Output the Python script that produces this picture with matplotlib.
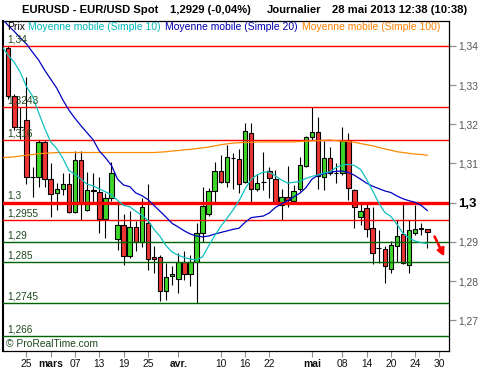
import matplotlib
matplotlib.use("Agg")
import matplotlib.pyplot as plt
from matplotlib.transforms import blended_transform_factory

plt.rcParams['font.family'] = ['Liberation Sans', 'DejaVu Sans']

# ---------------- data ----------------
opens = [1.3394, 1.3272, 1.3192, 1.3211, 1.3066, 1.3066, 1.3154, 1.3060, 1.3024, 1.3034,
         1.3048, 1.2977, 1.3109, 1.2981, 1.3031, 1.3028, 1.2958, 1.3011, 1.2907, 1.2943,
         1.2864, 1.2937, 1.2901, 1.2947, 1.2861, 1.2861, 1.2774, 1.2813, 1.2805, 1.2849,
         1.2817, 1.2849, 1.2923, 1.2970, 1.3029, 1.3080, 1.3052, 1.3114, 1.3111, 1.3052,
         1.3177, 1.3034, 1.3052, 1.3082, 1.3060, 1.2993, 1.3015, 1.3004, 1.3034, 1.3093,
         1.3167, 1.3180, 1.3065, 1.3113, 1.3075, 1.3075, 1.3158, 1.3032, 1.2964, 1.2986,
         1.2935, 1.2884, 1.2881, 1.2830, 1.2890, 1.2920, 1.2840, 1.2922, 1.2934, 1.2933]
highs = [1.3400, 1.3278, 1.3243, 1.3321, 1.3092, 1.3160, 1.3160, 1.3100, 1.3049, 1.3075,
         1.3075, 1.3133, 1.3133, 1.3079, 1.3075, 1.3066, 1.3025, 1.3105, 1.2998, 1.2971,
         1.2980, 1.2954, 1.3011, 1.3048, 1.2890, 1.2867, 1.2845, 1.2839, 1.2871, 1.2877,
         1.2867, 1.2947, 1.3039, 1.3037, 1.3105, 1.3122, 1.3147, 1.3128, 1.3136, 1.3204,
         1.3203, 1.3073, 1.3130, 1.3090, 1.3083, 1.3034, 1.3094, 1.3045, 1.3117, 1.3170,
         1.3243, 1.3218, 1.3158, 1.3143, 1.3102, 1.3194, 1.3177, 1.3035, 1.2996, 1.3003,
         1.2990, 1.2930, 1.2890, 1.2903, 1.2956, 1.2997, 1.2956, 1.2994, 1.2947, 1.2934]
lows = [1.3265, 1.3185, 1.3163, 1.3048, 1.3015, 1.3041, 1.3040, 1.2964, 1.2981, 1.3020,
        1.2975, 1.2973, 1.2956, 1.2978, 1.3000, 1.2922, 1.2909, 1.3005, 1.2879, 1.2841,
        1.2860, 1.2878, 1.2886, 1.2828, 1.2821, 1.2750, 1.2753, 1.2790, 1.2769, 1.2803,
        1.2787, 1.2745, 1.2901, 1.2965, 1.3003, 1.3050, 1.3041, 1.3035, 1.3024, 1.3050,
        1.3003, 1.3029, 1.3032, 1.3011, 1.2996, 1.2956, 1.2990, 1.2996, 1.3030, 1.3090,
        1.3160, 1.3034, 1.3032, 1.3071, 1.3051, 1.3070, 1.3007, 1.2935, 1.2943, 1.2913,
        1.2844, 1.2845, 1.2794, 1.2820, 1.2850, 1.2843, 1.2820, 1.2917, 1.2917, 1.2884]
closes = [1.3272, 1.3192, 1.3192, 1.3065, 1.3066, 1.3154, 1.3060, 1.3021, 1.3034, 1.3048,
          1.2977, 1.3109, 1.3003, 1.3032, 1.3031, 1.2958, 1.3011, 1.3075, 1.2943, 1.2864,
          1.2937, 1.2901, 1.2988, 1.2856, 1.2856, 1.2774, 1.2811, 1.2818, 1.2849, 1.2817,
          1.2849, 1.2923, 1.2992, 1.3029, 1.3080, 1.3052, 1.3116, 1.3114, 1.3048, 1.3182,
          1.3034, 1.3049, 1.3052, 1.3062, 1.2998, 1.3015, 1.3006, 1.3029, 1.3095, 1.3167,
          1.3180, 1.3068, 1.3113, 1.3075, 1.3075, 1.3158, 1.3037, 1.2988, 1.2979, 1.2932,
          1.2871, 1.2884, 1.2839, 1.2892, 1.2915, 1.2847, 1.2930, 1.2933, 1.2934, 1.2926]

# moving averages (index -1 .. 69)
sma10 = [1.3398, 1.3376, 1.3358, 1.3332, 1.3296, 1.3272, 1.3230, 1.3190, 1.3155, 1.3138,
         1.3113, 1.3082, 1.3072, 1.3060, 1.3047, 1.3043, 1.3035, 1.3028, 1.3020, 1.3006,
         1.2993, 1.2990, 1.2978, 1.2968, 1.2955, 1.2932, 1.2914, 1.2890, 1.2874, 1.2866,
         1.2860, 1.2856, 1.2854, 1.2862, 1.2890, 1.2916, 1.2940, 1.2960, 1.2981, 1.3005,
         1.3035, 1.3060, 1.3071, 1.3078, 1.3078, 1.3068, 1.3058, 1.3050, 1.3052, 1.3054,
         1.3062, 1.3067, 1.3071, 1.3076, 1.3079, 1.3090, 1.3096, 1.3098, 1.3095, 1.3085,
         1.3060, 1.3030, 1.3000, 1.2975, 1.2965, 1.2945, 1.2922, 1.2910, 1.2902, 1.2898,
         1.2896]
sma20 = [1.3470, 1.3452, 1.3437, 1.3420, 1.3405, 1.3384, 1.3364, 1.3338, 1.3315, 1.3292,
         1.3262, 1.3236, 1.3215, 1.3196, 1.3178, 1.3160, 1.3132, 1.3115, 1.3095, 1.3060,
         1.3045, 1.3041, 1.3025, 1.3018, 1.3008, 1.2993, 1.2978, 1.2963, 1.2947, 1.2938,
         1.2928, 1.2920, 1.2915, 1.2913, 1.2915, 1.2920, 1.2924, 1.2928, 1.2932, 1.2935,
         1.2950, 1.2962, 1.2964, 1.2966, 1.2974, 1.2988, 1.2997, 1.3005, 1.3015, 1.3024,
         1.3038, 1.3060, 1.3070, 1.3074, 1.3078, 1.3080, 1.3081, 1.3077, 1.3070, 1.3060,
         1.3050, 1.3042, 1.3036, 1.3030, 1.3026, 1.3017, 1.3010, 1.3005, 1.3001, 1.2993,
         1.2980]
sma100 = [1.3115, 1.3116, 1.3117, 1.3119, 1.3121, 1.3123, 1.3125, 1.3126, 1.3127, 1.3128,
          1.3128, 1.3128, 1.3128, 1.3128, 1.3128, 1.3128, 1.3128, 1.3128, 1.3128, 1.3128,
          1.3128, 1.3128, 1.3128, 1.3128, 1.3128, 1.3128, 1.3129, 1.3130, 1.3132, 1.3133,
          1.3135, 1.3136, 1.3138, 1.3140, 1.3142, 1.3145, 1.3148, 1.3150, 1.3152, 1.3153,
          1.3154, 1.3154, 1.3155, 1.3155, 1.3155, 1.3155, 1.3155, 1.3155, 1.3155, 1.3156,
          1.3157, 1.3158, 1.3158, 1.3159, 1.3160, 1.3158, 1.3157, 1.3156, 1.3154, 1.3151,
          1.3148, 1.3145, 1.3141, 1.3137, 1.3134, 1.3130, 1.3128, 1.3126, 1.3124, 1.3123,
          1.3121]

red_levels = [1.34, 1.3243, 1.316, 1.2955]
red_labels = ["1,34", "1,3243", "1,316", "1,2955"]
main_level = 1.3
main_label = "1,3"
green_levels = [1.29, 1.285, 1.2745, 1.266]
green_labels = ["1,29", "1,285", "1,2745", "1,266"]

xtick_pos = [3, 7, 11, 15, 19, 23, 28, 35, 39, 43, 50, 55, 59, 63, 67, 71]
xtick_lab = ["25", "mars", "07", "13", "19", "25", "avr.", "10", "16", "22",
             "mai", "08", "14", "20", "24", "30"]
month_labels = {"mars", "avr.", "mai"}

ytick_pos = [1.27, 1.28, 1.29, 1.30, 1.31, 1.32, 1.33, 1.34]
ytick_lab = ["1,27", "1,28", "1,29", "1,3", "1,31", "1,32", "1,33", "1,34"]

arrow_start = (70.0, 1.2920)
arrow_end = (72.0, 1.2856)

title_parts = ["EURUSD - EUR/USD Spot", "1,2929 (-0,04%)", "Journalier",
               "28 mai 2013 12:38 (10:38)"]
legend_parts = ["Prix", "Moyenne mobile (Simple 10)", "Moyenne mobile (Simple 20)",
                "Moyenne mobile (Simple 100)"]

# ---------------- figure ----------------
W, H = 500, 370
fig = plt.figure(figsize=(W / 100, H / 100), dpi=100)
fig.patch.set_facecolor("white")
L, R, T, B = 3, 449, 21, 351
ax = fig.add_axes([L / W, 1 - B / H, (R - L) / W, (B - T) / H])
ax.set_facecolor("white")

n = len(closes)
xs = list(range(n))
GREEN = "#3fd62a"
RED = "#f03434"

# wicks
ax.vlines(xs, lows, highs, color="black", lw=0.8, zorder=2)
# bodies
bottoms = [min(o, c) for o, c in zip(opens, closes)]
heights = [max(abs(c - o), 0.00004) for o, c in zip(opens, closes)]
colors = []
for o, c in zip(opens, closes):
    if abs(c - o) < 0.0002:
        colors.append("black")
    elif c > o:
        colors.append(GREEN)
    else:
        colors.append(RED)
ax.bar(xs, heights, bottom=bottoms, width=0.74, color=colors,
       edgecolor="black", linewidth=0.8, zorder=3)

# horizontal levels
trans = blended_transform_factory(ax.transAxes, ax.transData)
lab_color = "#1f4a1f"
for lv, lb in zip(red_levels, red_labels):
    ax.axhline(lv, color="#ff0000", lw=1.0, zorder=4)
    ax.annotate(lb, xy=(0, lv), xycoords=trans, xytext=(4, 1.5),
                textcoords="offset pixels", va="bottom", ha="left",
                fontsize=7.3, color=lab_color, zorder=6)
ax.axhline(main_level, color="#ff0000", lw=2.4, zorder=4)
ax.annotate(main_label, xy=(0, main_level), xycoords=trans, xytext=(4, 2.5),
            textcoords="offset pixels", va="bottom", ha="left",
            fontsize=7.3, color=lab_color, zorder=6)
for lv, lb in zip(green_levels, green_labels):
    ax.axhline(lv, color="#006400", lw=1.0, zorder=4)
    ax.annotate(lb, xy=(0, lv), xycoords=trans, xytext=(4, 1.5),
                textcoords="offset pixels", va="bottom", ha="left",
                fontsize=7.3, color=lab_color, zorder=6)

# moving averages
ma_x = list(range(-1, n))
ax.plot(ma_x, sma100, color="#ff8a00", lw=0.9, zorder=5)
ax.plot(ma_x, sma20, color="#0000c0", lw=0.9, zorder=5)
ax.plot(ma_x, sma10, color="#10c0c0", lw=0.9, zorder=5)

# arrow
ax.annotate("", xy=arrow_end, xytext=arrow_start,
            arrowprops=dict(arrowstyle="-|>", color="#ff0000", lw=1.9,
                            linestyle=(0, (2, 1)), mutation_scale=11),
            zorder=6)

# limits
ax.set_xlim(-0.86, 72.57)
ax.set_ylim(1.26217, 1.34635)

# spines
for s in ax.spines.values():
    s.set_color("black")
    s.set_linewidth(0.9)
ax.spines["left"].set_linewidth(1.5)

# x ticks
ax.set_xticks(xtick_pos)
ax.set_xticklabels(xtick_lab)
ax.tick_params(axis="x", direction="out", length=4, width=0.8, color="#909090",
               pad=2, labelsize=7.4, labelcolor="#111111")
for t in ax.get_xticklabels():
    if t.get_text() in month_labels:
        t.set_fontweight("bold")

# y ticks on right
ax.yaxis.tick_right()
ax.set_yticks(ytick_pos)
ax.set_yticklabels(ytick_lab)
ax.tick_params(axis="y", direction="out", length=5, width=0.9, color="#909090",
               pad=1.5, labelsize=7.4, labelcolor="#555555")
for t in ax.get_yticklabels():
    if t.get_text() == "1,3":
        t.set_fontweight("bold")
        t.set_fontsize(9.5)
        t.set_color("black")

# title
def fx(px):
    return px / W

def fy(py):
    return 1 - py / H

title_x = [21.5, 170, 266.5, 331.5]
for px, txt in zip(title_x, title_parts):
    fig.text(fx(px), fy(10), txt, fontsize=8.1, fontweight="bold",
             va="center", ha="left")

# legend line
leg_y = fy(27)
leg_x = [7, 27.7, 165, 301.5]
leg_c = ["black", "#00b8b8", "#0000b0", "#ff8000"]
for px, txt, c in zip(leg_x, legend_parts, leg_c):
    fig.text(fx(px), leg_y, txt, fontsize=7.5, color=c, va="center", ha="left")

# copyright
fig.text(fx(6), fy(344), "\u00a9 ProRealTime.com", fontsize=7.4, color=lab_color,
         va="center", ha="left")

fig.savefig("out.png", dpi=100)
